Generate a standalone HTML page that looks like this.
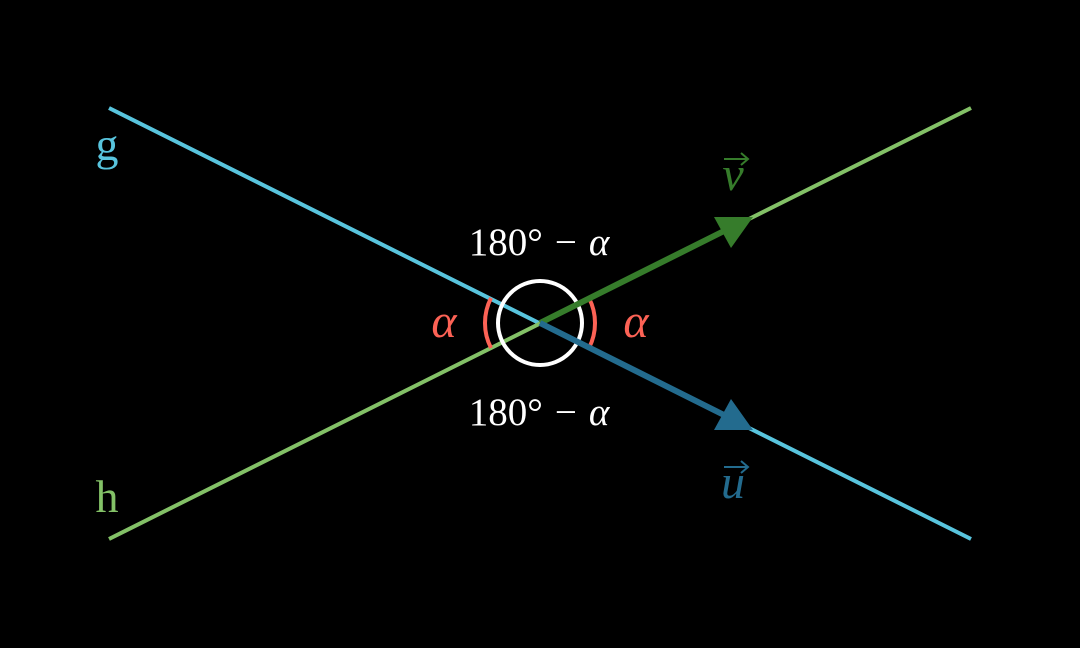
<!DOCTYPE html>
<html><head><style>
html,body{margin:0;padding:0;background:#000;width:1080px;height:648px;overflow:hidden}
</style></head><body>
<svg width="1080" height="648" viewBox="0 0 1080 648" xmlns="http://www.w3.org/2000/svg">
<rect width="1080" height="648" fill="#000"/>
<line x1="109" y1="108" x2="971" y2="539" stroke="#58C4DD" stroke-width="4"/>
<line x1="109" y1="539" x2="971" y2="108" stroke="#83C167" stroke-width="4"/>
<circle cx="540" cy="323" r="42" fill="none" stroke="#fff" stroke-width="4"/>
<path d="M491,298 A55,55 0 0 0 491,348" fill="none" stroke="#FC6255" stroke-width="4"/>
<path d="M589,298 A55,55 0 0 1 589,348" fill="none" stroke="#FC6255" stroke-width="4"/>
<line x1="540" y1="323" x2="728" y2="229" stroke="#367C2B" stroke-width="6"/>
<polygon points="753,217 714,217 731,248" fill="#367C2B"/>
<line x1="540" y1="323" x2="728" y2="417" stroke="#236B8E" stroke-width="6"/>
<polygon points="753,430 714,430 731,399" fill="#236B8E"/>
<g font-family="'Liberation Serif',serif" text-anchor="middle">
<text x="539" y="255" font-size="39" fill="#fff">180°<tspan dx="12">−</tspan><tspan dx="12" font-style="italic">α</tspan></text>
<text x="539" y="425" font-size="39" fill="#fff">180°<tspan dx="12">−</tspan><tspan dx="12" font-style="italic">α</tspan></text>
<text x="444" y="337" font-size="48" font-style="italic" fill="#FC6255">α</text>
<text x="636" y="337" font-size="48" font-style="italic" fill="#FC6255">α</text>
<text x="733" y="190" font-size="48" font-style="italic" fill="#367C2B">v</text>
<text x="733" y="498" font-size="48" font-style="italic" fill="#236B8E">u</text>
<text x="107" y="160" font-size="46" fill="#58C4DD">g</text>
<text x="107" y="512" font-size="46" fill="#83C167">h</text>
</g>
<g stroke-width="2" fill="none">
<path d="M724,159 H747 M741,153 L748,159 L741,165" stroke="#367C2B"/>
<path d="M724,467 H747 M741,461 L748,467 L741,473" stroke="#236B8E"/>
</g>
</svg>
</body></html>
